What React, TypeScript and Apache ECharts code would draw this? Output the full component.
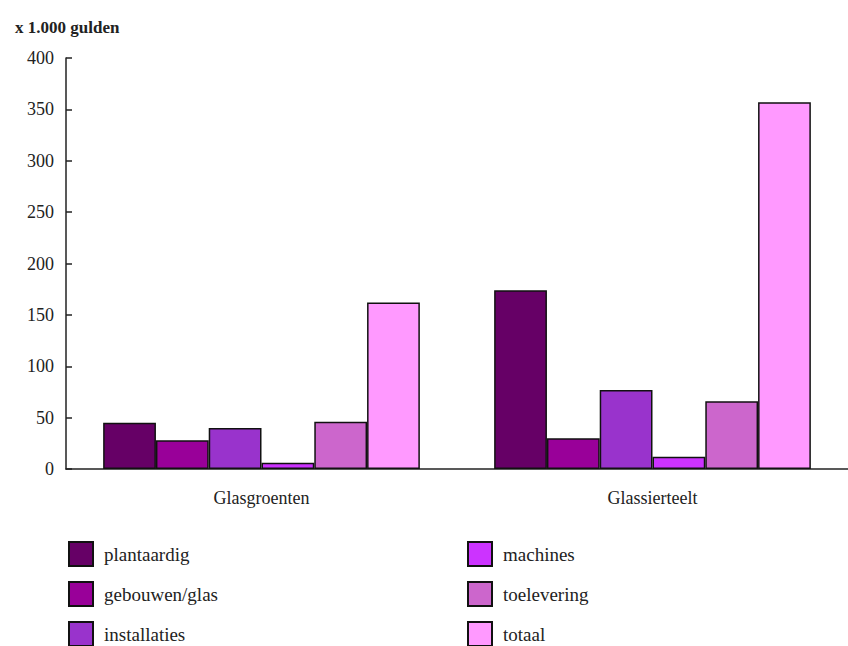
import React, { useEffect, useRef } from "react";
import * as echarts from "echarts";

const categories = ["Glasgroenten", "Glassierteelt"];
const seriesNames = ["plantaardig", "gebouwen/glas", "installaties", "machines", "toelevering", "totaal"];
const plantaardig = [45, 174];
const gebouwen = [28, 30];
const installaties = [40, 77];
const machines = [6, 12];
const toelevering = [46, 66];
const totaal = [162, 357];
const yTicks = [0, 50, 100, 150, 200, 250, 300, 350, 400];
const colors = ["#660066", "#990099", "#9933CC", "#CC33FF", "#CC66CC", "#FF99FF"];

const allValues = [plantaardig, gebouwen, installaties, machines, toelevering, totaal];
const FONT = "Liberation Serif";

export default function App() {
  const ref = useRef<HTMLDivElement>(null);
  useEffect(() => {
    if (!ref.current) return;
    const chart = echarts.init(ref.current, null, { renderer: "svg" });
    const series = seriesNames.map((name, i) => ({
      name,
      type: "bar",
      data: allValues[i],
      barGap: "0%",
      barCategoryGap: "19%",
      itemStyle: { color: colors[i], borderColor: "#111", borderWidth: 1.5 },
    }));
    const legendBase = {
      orient: "vertical",
      top: 541,
      height: 120,
      padding: 0,
      itemWidth: 24,
      itemHeight: 24,
      itemGap: 14,
      icon: "rect",
      textStyle: { fontFamily: FONT, fontSize: 19, color: "#222", padding: [0, 0, 0, 6] },
    };
    chart.setOption({
      animation: false,
      backgroundColor: "#fff",
      textStyle: { fontFamily: FONT },
      title: {
        text: "x 1.000 gulden",
        left: 10,
        top: 14,
        textStyle: { fontFamily: FONT, fontSize: 17, fontWeight: "bold", color: "#222" },
      },
      grid: { left: 66, top: 58, width: 790, height: 411, containLabel: false },
      xAxis: {
        type: "category",
        data: categories,
        axisLine: { show: true, lineStyle: { color: "#222", width: 1.5 } },
        axisTick: { show: false },
        axisLabel: { fontFamily: FONT, fontSize: 18, color: "#222", margin: 20 },
      },
      yAxis: {
        type: "value",
        min: yTicks[0],
        max: yTicks[yTicks.length - 1],
        interval: 50,
        axisLine: { show: true, lineStyle: { color: "#222", width: 1.5 } },
        axisTick: { show: true, inside: true, length: 6, lineStyle: { color: "#222", width: 1.5 } },
        splitLine: { show: false },
        axisLabel: { fontFamily: FONT, fontSize: 18, color: "#222", margin: 12 },
      },
      legend: [
        { ...legendBase, data: seriesNames.slice(0, 3), left: 68 },
        { ...legendBase, data: seriesNames.slice(3), left: 467 },
      ],
      series,
    });
    return () => chart.dispose();
  }, []);
  return (
    <div
      ref={ref}
      style={{ position: "fixed", left: 0, top: 0, width: 848, height: 646 }}
    />
  );
}
